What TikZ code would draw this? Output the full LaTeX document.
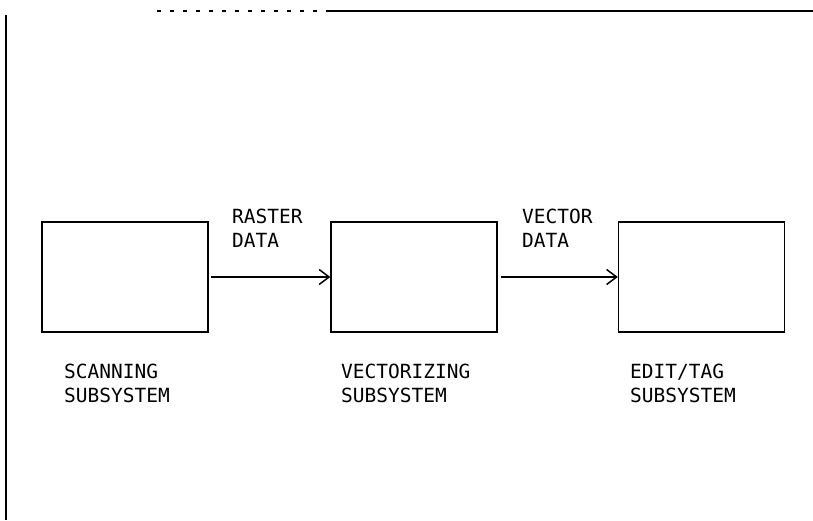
\documentclass[tikz,border=0pt]{standalone}
\usepackage{fontspec}
\setmonofont{DejaVu Sans Mono}
\usetikzlibrary{arrows.meta}
\tikzset{
  block/.style={draw=black, line width=1.3pt, minimum width=166pt, minimum height=110pt, inner sep=0pt},
  lbl/.style={anchor=north west, inner sep=0pt, align=left, font=\ttfamily\fontsize{19.5}{24}\selectfont},
  flow/.style={line width=1.2pt, -{Straight Barb[length=10pt,width=15pt,line width=1.5pt]}},
  frame/.style={line width=1.4pt}
}
\begin{document}
\begin{tikzpicture}[x=1pt,y=-1pt]
\useasboundingbox[fill=white] (0,0) rectangle (813,520);
% frame lines
\coordinate (tl) at (157,11);
\coordinate (tm) at (330,11);
\coordinate (tr) at (813,11);
\coordinate (lt) at (6,15);
\coordinate (lb) at (6,520);
\draw[line width=1.1pt, dash pattern=on 4pt off 9pt] (tl) -- (tm);
\draw[frame] (tm) -- (tr);
\draw[frame] (lt) -- (lb);
% blocks
\node[block] (scan) at (125,277) {};
\node[block] (vect) at (414,277) {};
\node[block] (edit) at (701.5,277) {};
% connectors
\draw[flow] (scan.east) ++(2,0) coordinate (a1) -- (vect.west);
\draw[flow] (vect.east) ++(3,0) coordinate (a2) -- (edit.west);
% labels
\node[lbl] (raster) at (232,209) {RASTER\\DATA};
\node[lbl] (vector) at (522,209) {VECTOR\\DATA};
\node[lbl] (scanl) at (64,364) {SCANNING\\SUBSYSTEM};
\node[lbl] (vectl) at (341,364) {VECTORIZING\\SUBSYSTEM};
\node[lbl] (editl) at (630,364) {EDIT/TAG\\SUBSYSTEM};
\end{tikzpicture}
\end{document}
